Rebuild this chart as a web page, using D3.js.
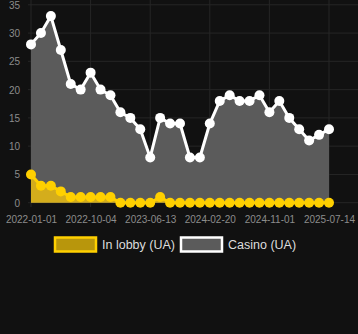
<!DOCTYPE html>
<html>
<head>
<meta charset="utf-8">
<script src="https://cdn.jsdelivr.net/npm/d3@7"></script>
<style>
  body { margin: 0; background: #111111; }
  svg { display: block; font-family: "Liberation Sans", Arial, sans-serif; }
</style>
</head>
<body>
<svg id="chart"></svg>
<script>
var W = 358, H = 334;

// dates of each sample (only every 6th one is labelled)
var dates = ['2022-01-01','2022-02-16','2022-04-03','2022-05-19','2022-07-04','2022-08-19','2022-10-04',
             '2022-11-15','2022-12-27','2023-02-07','2023-03-21','2023-05-02','2023-06-13',
             '2023-07-25','2023-09-05','2023-10-17','2023-11-28','2024-01-09','2024-02-20',
             '2024-04-03','2024-05-16','2024-06-28','2024-08-09','2024-09-20','2024-11-01',
             '2024-12-13','2025-01-24','2025-03-07','2025-04-18','2025-05-30','2025-07-14'];
var tickLabels = ['2022-01-01','2022-10-04','2023-06-13','2024-02-20','2024-11-01','2025-07-14'];
var yTicks = [0, 5, 10, 15, 20, 25, 30, 35];

var casino = [28,30,33,27,21,20,23,20,19,16,15,13,8,15,14,14,8,8,14,18,19,18,18,19,16,18,15,13,11,12,13];
var lobby  = [5,3,3,2,1,1,1,1,1,0,0,0,0,1,0,0,0,0,0,0,0,0,0,0,0,0,0,0,0,0,0];

var color_lobby = '#FFD000',
    color_lobby_fill = '#d4ad1c',
    color_casino = '#ffffff',
    color_casino_fill = '#5b5b5b';

var svg = d3.select('#chart').attr('width', W).attr('height', H);
svg.append('rect').attr('width', W).attr('height', H).attr('fill', '#111111');

var x = d3.scalePoint().domain(dates).range([31, 329]);
var y = d3.scaleLinear().domain([0, 35]).range([202.7, 4.8]);

// grid
svg.append('g').selectAll('line.h')
    .data(yTicks).enter().append('line')
      .attr('x1', 28).attr('x2', 358)
      .attr('y1', d => y(d)).attr('y2', d => y(d))
      .attr('stroke', '#262626').attr('stroke-width', 1);
svg.append('g').selectAll('line.v')
    .data(tickLabels).enter().append('line')
      .attr('x1', d => x(d)).attr('x2', d => x(d))
      .attr('y1', 0).attr('y2', 207)
      .attr('stroke', '#262626').attr('stroke-width', 1);

// axes
var yAxis = svg.append('g')
    .attr('transform', 'translate(23,0)')
    .call(d3.axisLeft(y).tickValues(yTicks).tickSize(0).tickPadding(3));
var xAxis = svg.append('g')
    .attr('transform', 'translate(0,210)')
    .call(d3.axisBottom(x).tickValues(tickLabels).tickSize(0).tickPadding(6));
[yAxis, xAxis].forEach(function(a){
    a.select('.domain').remove();
    a.selectAll('text').attr('fill', '#8c8c8c').attr('font-size', '10px')
        .attr('font-family', '"Liberation Sans", Arial, sans-serif');
});
yAxis.selectAll('text').attr('dy', '0.35em');

function drawSeries(values, lineColor, fillColor){
    var pts = values.map((v, i) => [dates[i], v]);
    var area = d3.area().x(d => x(d[0])).y0(y(0)).y1(d => y(d[1]));
    var line = d3.line().x(d => x(d[0])).y(d => y(d[1]));
    svg.append('path').attr('d', area(pts)).attr('fill', fillColor);
    svg.append('path').attr('d', line(pts))
        .attr('fill', 'none').attr('stroke', lineColor)
        .attr('stroke-width', 3).attr('stroke-linejoin', 'round');
    svg.append('g').selectAll('circle')
        .data(pts).enter().append('circle')
          .attr('cx', d => x(d[0])).attr('cy', d => y(d[1]))
          .attr('r', 5).attr('fill', lineColor);
}

drawSeries(casino, color_casino, color_casino_fill);
drawSeries(lobby, color_lobby, color_lobby_fill);

// legend
var legend = [
    {name: 'In lobby (UA)', x: 55, stroke: color_lobby, fill: '#b8960c'},
    {name: 'Casino (UA)', x: 181, stroke: '#ffffff', fill: '#5b5b5b'}
];
var lg = svg.append('g').selectAll('g').data(legend).enter().append('g');
lg.append('rect')
    .attr('x', d => d.x).attr('y', 237.5).attr('width', 41).attr('height', 14)
    .attr('fill', d => d.fill).attr('stroke', d => d.stroke).attr('stroke-width', 2.5);
lg.append('text')
    .attr('x', d => d.x + 47).attr('y', 244.5).attr('dy', '0.35em')
    .attr('fill', '#dddddd').attr('font-size', '12.5px')
    .text(d => d.name);
</script>
</body>
</html>
